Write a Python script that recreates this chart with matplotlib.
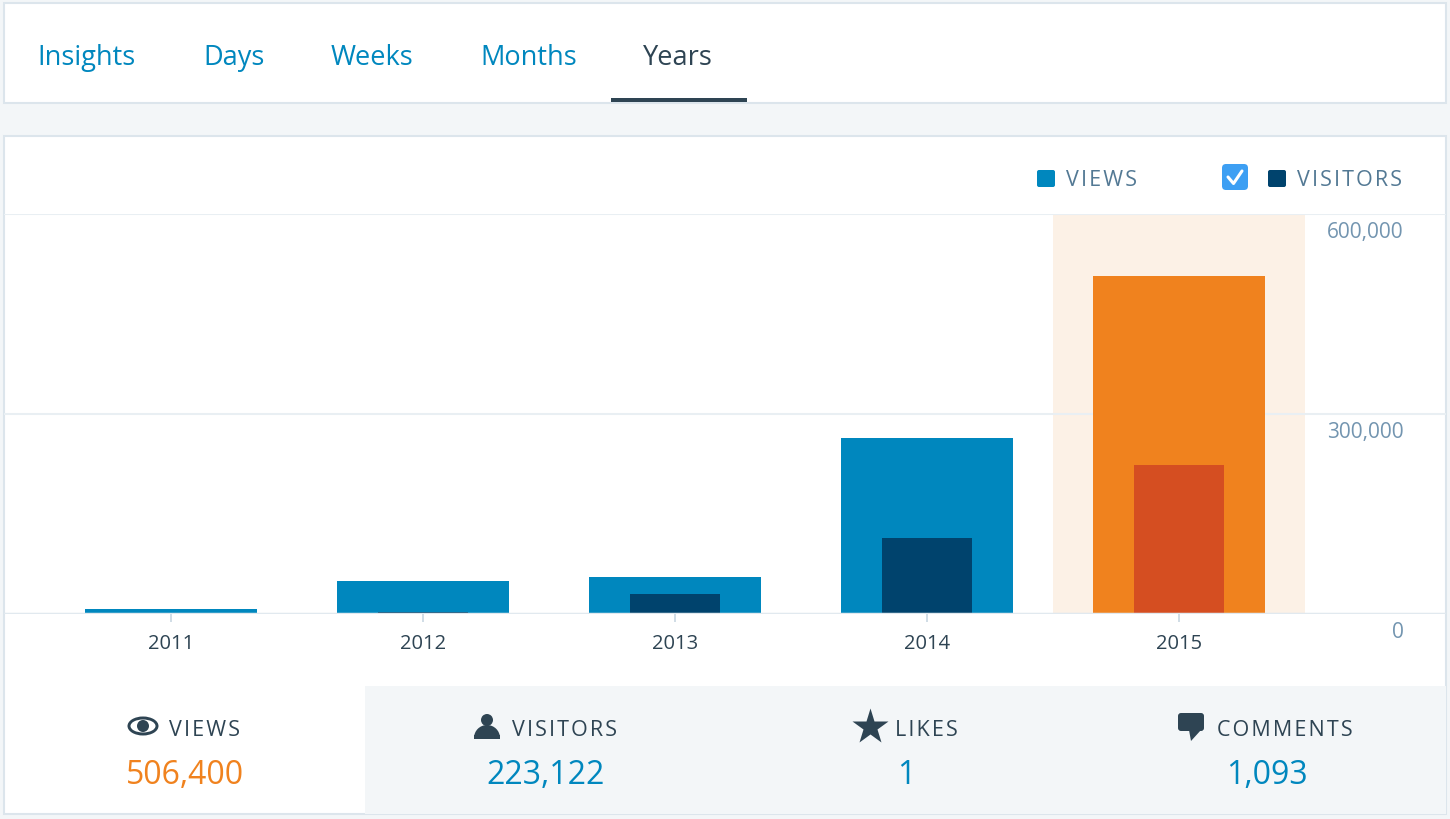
import numpy as np
import matplotlib.pyplot as plt
from matplotlib.patches import Rectangle, FancyBboxPatch, Ellipse, Circle, Wedge, Polygon

plt.rcParams['font.family'] = ['Open Sans', 'DejaVu Sans']

# data
years = ['2011', '2012', '2013', '2014', '2015']
views = [7000, 49000, 55000, 264000, 506400]
visitors = [500, 2500, 30000, 114000, 223122]
y_ticks = [0, 300000, 600000]
y_tick_labels = ['0', '300,000', '600,000']
tabs = ['Insights', 'Days', 'Weeks', 'Months', 'Years']
stat_names = ['VIEWS', 'VISITORS', 'LIKES', 'COMMENTS']
stat_values = ['506,400', '223,122', '1', '1,093']

BG = '#f3f6f8'
BORDER = '#dce5ec'
BLUE = '#0087be'
NAVY = '#00436d'
ORANGE = '#f0821e'
RED = '#d54e21'
DARK = '#2e4453'


def spaced(s):
    return '\u200a'.join(s)


fig = plt.figure(figsize=(14.5, 8.2), dpi=100)
fig.patch.set_facecolor(BG)

# background layer in pixel coordinates
bg = fig.add_axes([0, 0, 1, 1])
bg.set_xlim(0, 1450)
bg.set_ylim(820, 0)
bg.axis('off')

# tab bar
bg.add_patch(Rectangle((4, 4), 1442, 100, facecolor='white', edgecolor=BORDER, lw=1.5))
tab_x = [87, 234, 372, 529, 678]
for name, x in zip(tabs, tab_x):
    col = DARK if name == 'Years' else BLUE
    bg.text(x, 58, name, ha='center', va='center', fontsize=19.5, color=col)
bg.add_patch(Rectangle((611, 99), 136, 4, facecolor=DARK, edgecolor='none'))

# chart panel
bg.add_patch(Rectangle((4, 137), 1442, 678, facecolor='white', edgecolor=BORDER, lw=1.5))
bg.add_patch(Rectangle((365, 687), 1081, 128, facecolor=BG, edgecolor='none'))

# legend
bg.add_patch(FancyBboxPatch((1037, 171), 18, 17, boxstyle='round,pad=0,rounding_size=2',
                            facecolor=BLUE, edgecolor='none'))
bg.text(1066, 181, spaced('VIEWS'), ha='left', va='center', fontsize=15.5, color='#537994')
bg.add_patch(FancyBboxPatch((1222, 165), 26, 26, boxstyle='round,pad=0,rounding_size=4',
                            facecolor='#3d9ff3', edgecolor='none'))
bg.plot([1228, 1233.5, 1242], [178, 184.5, 172], color='white', lw=2.2, solid_capstyle='round')
bg.add_patch(FancyBboxPatch((1268, 171), 18, 17, boxstyle='round,pad=0,rounding_size=2',
                            facecolor=NAVY, edgecolor='none'))
bg.text(1297, 181, spaced('VISITORS'), ha='left', va='center', fontsize=15.5, color='#537994')

# stats row
stat_cx = [185, 546, 906, 1267]
label_x = [169, 512, 895, 1217]
for i, (name, val, cx, lx) in enumerate(zip(stat_names, stat_values, stat_cx, label_x)):
    bg.text(lx, 731, spaced(name), ha='left', va='center', fontsize=15.5, color=DARK)
    bg.text(cx, 776, val, ha='center', va='center', fontsize=23,
            color=ORANGE if i == 0 else BLUE)

# icons
# eye
bg.add_patch(Ellipse((143, 727), 31, 19, facecolor=DARK, edgecolor='none'))
bg.add_patch(Ellipse((143, 727), 25, 13, facecolor='white', edgecolor='none'))
bg.add_patch(Circle((143, 727), 6, facecolor=DARK, edgecolor='none'))
# person
bg.add_patch(Circle((487, 721), 6, facecolor=DARK, edgecolor='none'))
bg.add_patch(Wedge((487, 739), 13, 180, 360, facecolor=DARK, edgecolor='none'))
bg.add_patch(Rectangle((474, 736), 26, 4, facecolor=DARK, edgecolor='none'))
# star
bg.plot([870], [728], marker='*', ms=27, color=DARK, mec='none')
# comment bubble
bg.add_patch(FancyBboxPatch((1178, 714), 26, 18, boxstyle='round,pad=0,rounding_size=3',
                            facecolor=DARK, edgecolor='none'))
bg.add_patch(Polygon([(1189, 731), (1201, 731), (1191, 742)], closed=True,
                     facecolor=DARK, edgecolor='none'))

# chart axes: category spacing 252 px, first centre at x=171
ax = fig.add_axes([4 / 1450, (820 - 615) / 820, 1442 / 1450, 400 / 820])
ax.patch.set_alpha(0)
x = np.arange(len(years))
ax.set_xlim((4 - 171) / 252, (1446 - 171) / 252)
ax.set_ylim(0, 600000)

ax.axvspan(3.5, 4.5, color='#fcf1e6', zorder=0, lw=0)
view_cols = [BLUE] * 4 + [ORANGE]
vis_cols = [NAVY] * 4 + [RED]
ax.bar(x, views, width=0.68, color=view_cols, zorder=2)
ax.bar(x, visitors, width=0.36, color=vis_cols, zorder=3)

ax.set_yticks(y_ticks)
ax.yaxis.grid(True, color='#e9eff3', lw=1.5, zorder=1)
ax.set_axisbelow(True)
ax.tick_params(axis='y', length=0, labelleft=False)
ax.axhline(0, color='#e1e9ef', lw=2.5, zorder=4)
for v, lab in zip(y_ticks, y_tick_labels):
    ax.annotate(lab, xy=((1404 - 4) / 1442, v), xycoords=ax.get_yaxis_transform(),
                xytext=(0, -5), textcoords='offset points', ha='right', va='top',
                fontsize=15, color='#7395b0')

ax.set_xticks(x)
ax.set_xticklabels(years)
ax.tick_params(axis='x', length=6, width=1.2, color='#c8d7e1', pad=8,
               labelsize=14.5, labelcolor=DARK)
for s in ax.spines.values():
    s.set_visible(False)

fig.savefig('out.png', dpi=100, facecolor=fig.get_facecolor())
